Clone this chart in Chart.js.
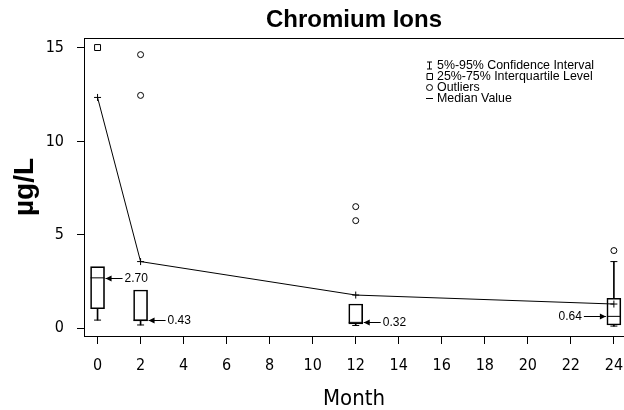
<!DOCTYPE html>
<html>
<head>
<meta charset="utf-8">
<title>Chromium Ions</title>
<script src="https://cdn.jsdelivr.net/npm/chart.js"></script>
<style>
  html, body { margin: 0; padding: 0; background: #fff; }
  #chart-container { width: 624px; height: 410px; }
</style>
</head>
<body>
<div id="chart-container"><canvas id="myChart" width="624" height="410"></canvas></div>
<script>
// values (µg/L)
const months = [0, 2, 12, 24];
const q1 = [1.05, 0.40, 0.23, 0.18];
const q3 = [3.30, 2.05, 1.30, 1.61];
const medians = [2.70, 0.43, 0.32, 0.64];
const whiskLow = [0.44, 0.18, 0.15, 0.12];
const whiskHigh = [3.30, 2.05, 1.30, 3.57];
const trend = [12.35, 3.57, 1.78, 1.30];
const outlierMonths = [2, 2, 12, 12, 24];
const outlierVals = [14.64, 12.46, 6.51, 5.76, 4.16];
const extremeMonths = [0];
const extremeVals = [15.02];
const xTicks = [0, 2, 4, 6, 8, 10, 12, 14, 16, 18, 20, 22, 24];
const yTicks = [0, 5, 10, 15];
const legendLabels = ['5%-95% Confidence Interval', '25%-75% Interquartile Level', 'Outliers', 'Median Value'];

const sans = '"Liberation Sans", Arial, Helvetica, sans-serif';
const narrow = '"Liberation Sans Narrow", "Arial Narrow", "DejaVu Sans Condensed", sans-serif';

// upper whiskers only where they reach past the box
const upperIdx = months.map((m, i) => i).filter(i => whiskHigh[i] > q3[i]);

// top frame line, legend block and the arrows pointing at the medians
const extras = {
  id: 'extras',
  afterDatasetsDraw(chart) {
    const { ctx, chartArea, scales: { x, y } } = chart;
    ctx.save();
    ctx.strokeStyle = '#000';
    ctx.fillStyle = '#000';
    ctx.lineWidth = 1;

    ctx.beginPath();
    ctx.moveTo(chartArea.left, chartArea.top + 0.5);
    ctx.lineTo(chartArea.right, chartArea.top + 0.5);
    ctx.stroke();

    // legend
    ctx.font = '12.4px ' + sans;
    ctx.textAlign = 'left';
    ctx.textBaseline = 'middle';
    const lx = chartArea.right - 187;
    const sx = lx - 7.5;
    legendLabels.forEach((label, i) => {
      const ly = chartArea.top + 26.7 + i * 11.05;
      ctx.fillText(label, lx, ly + 0.5);
      const cy = Math.round(ly) + 0.5;
      ctx.beginPath();
      if (i === 0) {
        ctx.moveTo(sx - 2.5, cy - 3.5); ctx.lineTo(sx + 2.5, cy - 3.5);
        ctx.moveTo(sx, cy - 3.5); ctx.lineTo(sx, cy + 3.5);
        ctx.moveTo(sx - 2.5, cy + 3.5); ctx.lineTo(sx + 2.5, cy + 3.5);
      } else if (i === 1) {
        ctx.rect(sx - 2.5, cy - 3, 5.5, 6);
      } else if (i === 2) {
        ctx.arc(sx, cy, 3, 0, Math.PI * 2);
      } else {
        ctx.moveTo(sx - 3.5, cy); ctx.lineTo(sx + 3.5, cy);
      }
      ctx.stroke();
    });

    // arrows + median labels
    ctx.font = '12px ' + sans;
    months.forEach((m, i) => {
      const px = x.getPixelForValue(m);
      const py = Math.round(y.getPixelForValue(medians[i])) + 0.5;
      const text = medians[i].toFixed(2);
      const w = ctx.measureText(text).width;
      const dir = (px + 30 + w > chartArea.right) ? -1 : 1;
      const tip = px + dir * 8;
      const tail = tip + dir * (dir > 0 ? 17 : 22);
      ctx.beginPath();
      ctx.moveTo(tip, py); ctx.lineTo(tail, py);
      ctx.stroke();
      ctx.beginPath();
      ctx.moveTo(tip, py);
      ctx.lineTo(tip + dir * 6, py - 3);
      ctx.lineTo(tip + dir * 6, py + 3);
      ctx.closePath();
      ctx.fill();
      ctx.textAlign = dir > 0 ? 'left' : 'right';
      ctx.fillText(text, tail + dir * 2, py);
    });
    ctx.restore();
  }
};

const ctx = document.getElementById('myChart').getContext('2d');

const chart = new Chart(ctx, {
  type: 'bar',
  data: {
    datasets: [
      {
        // interquartile boxes
        type: 'bar',
        data: months.map((m, i) => ({ x: m, y: [q1[i], q3[i]] })),
        backgroundColor: 'rgba(255,255,255,0)',
        borderColor: '#000',
        borderWidth: 1,
        borderSkipped: false,
        barThickness: 14,
        grouped: false,
        order: 3
      },
      {
        // lower whiskers
        type: 'bar',
        data: months.map((m, i) => ({ x: m, y: [whiskLow[i], q1[i]] })),
        backgroundColor: '#000',
        borderWidth: 0,
        barThickness: 1,
        grouped: false,
        order: 4
      },
      {
        // upper whiskers
        type: 'bar',
        data: upperIdx.map(i => ({ x: months[i], y: [q3[i], whiskHigh[i]] })),
        backgroundColor: '#000',
        borderWidth: 0,
        barThickness: 1,
        grouped: false,
        order: 4
      },
      {
        // whisker caps
        type: 'scatter',
        data: months.map((m, i) => ({ x: m, y: whiskLow[i] }))
          .concat(upperIdx.map(i => ({ x: months[i], y: whiskHigh[i] }))),
        pointStyle: 'line',
        pointRadius: 3.5,
        borderColor: '#000',
        borderWidth: 1,
        order: 2
      },
      {
        // median bars inside the boxes
        type: 'scatter',
        data: months.map((m, i) => ({ x: m, y: medians[i] })),
        pointStyle: 'line',
        pointRadius: 7,
        borderColor: '#000',
        borderWidth: 1,
        order: 2
      },
      {
        type: 'line',
        data: months.map((m, i) => ({ x: m, y: trend[i] })),
        borderColor: '#000',
        borderWidth: 1,
        tension: 0,
        fill: false,
        pointStyle: 'cross',
        pointRadius: 3.5,
        pointBorderColor: '#000',
        pointBorderWidth: 1,
        order: 1
      },
      {
        // outliers
        type: 'scatter',
        data: outlierMonths.map((m, i) => ({ x: m, y: outlierVals[i] })),
        pointStyle: 'circle',
        pointRadius: 3,
        backgroundColor: '#fff',
        borderColor: '#000',
        borderWidth: 1,
        order: 1
      },
      {
        type: 'scatter',
        data: extremeMonths.map((m, i) => ({ x: m, y: extremeVals[i] })),
        pointStyle: 'rect',
        pointRadius: 4.2,
        backgroundColor: '#fff',
        borderColor: '#000',
        borderWidth: 1,
        order: 1
      }
    ]
  },
  options: {
    responsive: false,
    animation: false,
    events: [],
    layout: { padding: 0, autoPadding: false },
    plugins: {
      legend: { display: false },
      tooltip: { enabled: false },
      title: {
        display: true,
        text: 'Chromium Ions',
        fullSize: false,
        color: '#000',
        font: { family: sans, size: 24, weight: 'bold', lineHeight: 1.2 },
        padding: { top: 6, bottom: 3.2 }
      }
    },
    scales: {
      x: {
        type: 'linear',
        position: 'bottom',
        offset: false,
        min: -0.63,
        max: 24.47,
        afterFit(scale) {
          scale.height = 74;
          scale.paddingLeft = 0;
          scale.paddingRight = 0;
        },
        afterBuildTicks(scale) { scale.ticks = xTicks.map(v => ({ value: v })); },
        ticks: {
          color: '#000',
          padding: 12,
          maxRotation: 0,
          autoSkip: false,
          font: { family: narrow, size: 16 }
        },
        grid: { drawOnChartArea: false, drawTicks: true, tickLength: 8, tickColor: '#000', offset: false },
        border: { display: true, color: '#000', width: 1 },
        title: {
          display: true,
          text: 'Month',
          color: '#000',
          font: { family: narrow, size: 22, lineHeight: 1 },
          padding: { top: 0, bottom: 0 }
        }
      },
      y: {
        type: 'linear',
        min: -0.41,
        max: 15.53,
        afterFit(scale) {
          scale.width = 84;
          scale.paddingTop = 0;
          scale.paddingBottom = 0;
        },
        afterBuildTicks(scale) { scale.ticks = yTicks.map(v => ({ value: v })); },
        ticks: {
          color: '#000',
          padding: 13,
          font: { family: narrow, size: 16 }
        },
        grid: { drawOnChartArea: false, drawTicks: true, tickLength: 7, tickColor: '#000' },
        border: { display: true, color: '#000', width: 1 },
        title: {
          display: true,
          text: 'µg/L',
          color: '#000',
          font: { family: sans, size: 28, weight: 'bold', lineHeight: 1.2 },
          padding: { top: 8, bottom: 0 }
        }
      }
    }
  },
  plugins: [extras]
});
</script>
</body>
</html>
